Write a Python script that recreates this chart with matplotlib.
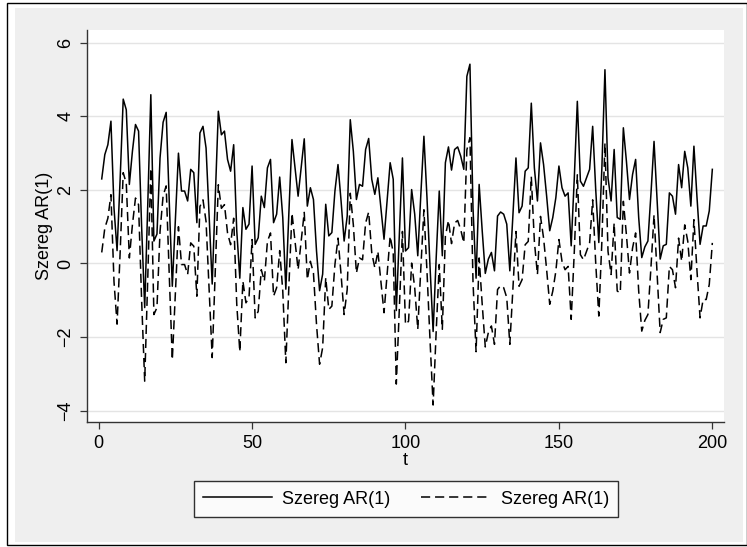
import matplotlib
matplotlib.use("Agg")
import matplotlib.pyplot as plt
from matplotlib.patches import Rectangle

plt.rcParams['font.family'] = ['Liberation Sans', 'DejaVu Sans']

t = list(range(1, 201))

series_solid = [
    2.30, 2.96, 3.23, 3.87, 1.50, 0.35, 2.30, 4.47, 4.18, 2.15,
    3.05, 3.78, 3.60, 1.00, -1.20, 1.60, 4.59, 0.61, 0.80, 2.87,
    3.84, 4.11, 1.70, -0.62, 1.20, 3.00, 1.97, 1.97, 1.70, 2.56,
    2.47, 1.11, 3.55, 3.73, 3.14, 1.30, -0.56, 1.80, 4.14, 3.50,
    3.60, 2.83, 2.51, 3.23, 0.90, -0.40, 1.52, 0.93, 1.07, 2.65,
    0.52, 0.70, 1.83, 1.52, 2.60, 2.83, 1.11, 1.34, 2.35, 1.25,
    -0.70, 1.40, 3.37, 2.60, 1.83, 2.60, 3.39, 1.56, 2.06, 1.74,
    0.34, -0.74, -0.29, 1.61, 0.75, 0.84, 1.97, 2.69, 1.70, 0.61,
    1.29, 3.91, 3.05, 1.74, 2.15, 2.10, 3.10, 3.40, 2.29, 1.88,
    2.33, 1.50, 0.66, 1.70, 2.74, 2.29, -1.28, 0.80, 2.87, 0.34,
    0.43, 2.01, 1.34, 0.21, 1.88, 3.46, 1.79, -0.10, -1.85, 0.15,
    1.97, 0.21, 2.74, 3.17, 2.54, 3.10, 3.17, 2.92, 2.56, 5.09,
    5.42, 1.50, -0.40, 2.15, 0.89, -0.27, 0.12, 0.30, -0.20, 1.29,
    1.40, 1.34, 1.07, -0.20, 1.30, 2.87, 1.38, 1.56, 2.51, 2.60,
    4.36, 2.60, 1.70, 3.28, 2.69, 1.83, 0.89, 1.25, 1.79, 2.65,
    2.06, 1.83, 1.92, 0.48, 2.30, 4.41, 2.24, 2.10, 2.33, 2.56,
    3.73, 2.00, 0.57, 2.60, 5.27, 2.33, 1.70, 3.10, 1.25, 1.20,
    3.69, 2.78, 1.74, 2.42, 2.83, 1.25, 0.16, 0.45, 0.61, 1.90,
    3.32, 1.70, 0.12, 0.48, 0.52, 1.92, 1.83, 1.34, 2.69, 2.06,
    3.05, 2.60, 1.56, 3.19, 1.80, 0.52, 1.02, 1.02, 1.43, 2.56,
]

series_dashed = [
    0.30, 0.96, 1.23, 1.87, -0.50, -1.65, 0.30, 2.47, 2.18, 0.15,
    1.05, 1.78, 1.60, -1.00, -3.20, -0.40, 2.59, -1.39, -1.20, 0.87,
    1.84, 2.11, -0.30, -2.62, -0.80, 1.00, -0.03, -0.03, -0.30, 0.56,
    0.47, -0.89, 1.55, 1.73, 1.14, -0.70, -2.56, -0.20, 2.14, 1.50,
    1.60, 0.83, 0.51, 1.23, -1.10, -2.40, -0.48, -1.07, -0.93, 0.65,
    -1.48, -1.30, -0.17, -0.48, 0.60, 0.83, -0.89, -0.66, 0.35, -0.75,
    -2.70, -0.60, 1.37, 0.60, -0.17, 0.60, 1.39, -0.44, 0.06, -0.26,
    -1.66, -2.74, -2.29, -0.39, -1.25, -1.16, -0.03, 0.69, -0.30, -1.39,
    -0.71, 1.91, 1.05, -0.26, 0.15, 0.10, 1.10, 1.40, 0.29, -0.12,
    0.33, -0.50, -1.34, -0.30, 0.74, 0.29, -3.28, -1.20, 0.87, -1.66,
    -1.57, 0.01, -0.66, -1.79, -0.12, 1.46, -0.21, -2.10, -3.85, -1.85,
    -0.03, -1.79, 0.74, 1.17, 0.54, 1.10, 1.17, 0.92, 0.56, 3.09,
    3.42, -0.50, -2.40, 0.15, -1.11, -2.27, -1.88, -1.70, -2.20, -0.71,
    -0.60, -0.66, -0.93, -2.20, -0.70, 0.87, -0.62, -0.44, 0.51, 0.60,
    2.36, 0.60, -0.30, 1.28, 0.69, -0.17, -1.11, -0.75, -0.21, 0.65,
    0.06, -0.17, -0.08, -1.52, 0.30, 2.41, 0.24, 0.10, 0.33, 0.56,
    1.73, 0.00, -1.43, 0.60, 3.27, 0.33, -0.30, 1.10, -0.75, -0.80,
    1.69, 0.78, -0.26, 0.42, 0.83, -0.75, -1.84, -1.55, -1.39, -0.10,
    1.32, -0.30, -1.88, -1.52, -1.48, -0.08, -0.17, -0.66, 0.69, 0.06,
    1.05, 0.60, -0.44, 1.19, -0.20, -1.48, -0.98, -0.98, -0.57, 0.56,
]

legend_labels = ["Szereg AR(1)", "Szereg AR(1)"]
x_ticks = [0, 50, 100, 150, 200]
y_ticks = [-4, -2, 0, 2, 4, 6]
x_title = "t"
y_title = "Szereg AR(1)"

W, H = 747, 547
fig = plt.figure(figsize=(W / 100, H / 100), dpi=100, facecolor="white")


def fx(px):
    return px / W


def fy(py):
    return 1 - py / H


fig.patches.append(Rectangle((fx(15), fy(541.5)), fx(743) - fx(15), fy(8) - fy(541.5),
                             transform=fig.transFigure, facecolor="#EFEFEF",
                             edgecolor="none", zorder=-10))
fig.patches.append(Rectangle((fx(6.5), fy(545)), fx(746.5) - fx(6.5), fy(2.5) - fy(545),
                             transform=fig.transFigure, facecolor="none",
                             edgecolor="black", linewidth=1.0, zorder=-9))

ax = fig.add_axes([fx(86.7), fy(422.3), fx(724.3) - fx(86.7), fy(30) - fy(422.3)])
ax.set_zorder(1)
ax.set_facecolor("white")

ax.plot(t, series_solid, color="black", linewidth=1.1, label=legend_labels[0], zorder=3)
ax.plot(t, series_dashed, color="black", linewidth=1.1, dashes=(6.0, 3.2),
        label=legend_labels[1], zorder=3)

ax.set_xlim(-3.9, 203.9)
ax.set_ylim(-4.32, 6.35)
ax.set_xticks(x_ticks)
ax.set_yticks(y_ticks)
ax.set_yticklabels([("\u2212" + str(abs(v))) if v < 0 else str(v) for v in y_ticks])
ax.yaxis.grid(True, color="#E4E4E4", linewidth=1.0)
ax.set_axisbelow(True)

for s in ["top", "right"]:
    ax.spines[s].set_visible(False)
for s in ["left", "bottom"]:
    ax.spines[s].set_color("#333333")
    ax.spines[s].set_linewidth(1.0)

ax.tick_params(axis="both", direction="out", length=5, width=0.9, color="#333333",
               labelsize=13, pad=4)
for lab in ax.get_yticklabels():
    lab.set_rotation(90)
    lab.set_va("center")

ax.set_xlabel(x_title, fontsize=13, labelpad=0)
ax.set_ylabel(y_title, fontsize=13, labelpad=3)

leg = fig.legend(loc="center", bbox_to_anchor=(fx(406), fy(499)), ncol=2,
                 fontsize=13, frameon=True, fancybox=False, edgecolor="black",
                 handlelength=3.8, handletextpad=0.6, columnspacing=1.7,
                 borderpad=0.5)
leg.get_frame().set_linewidth(1.0)
leg.get_frame().set_facecolor("white")
leg.set_zorder(2)

fig.savefig("out.png", dpi=100, facecolor=fig.get_facecolor())
